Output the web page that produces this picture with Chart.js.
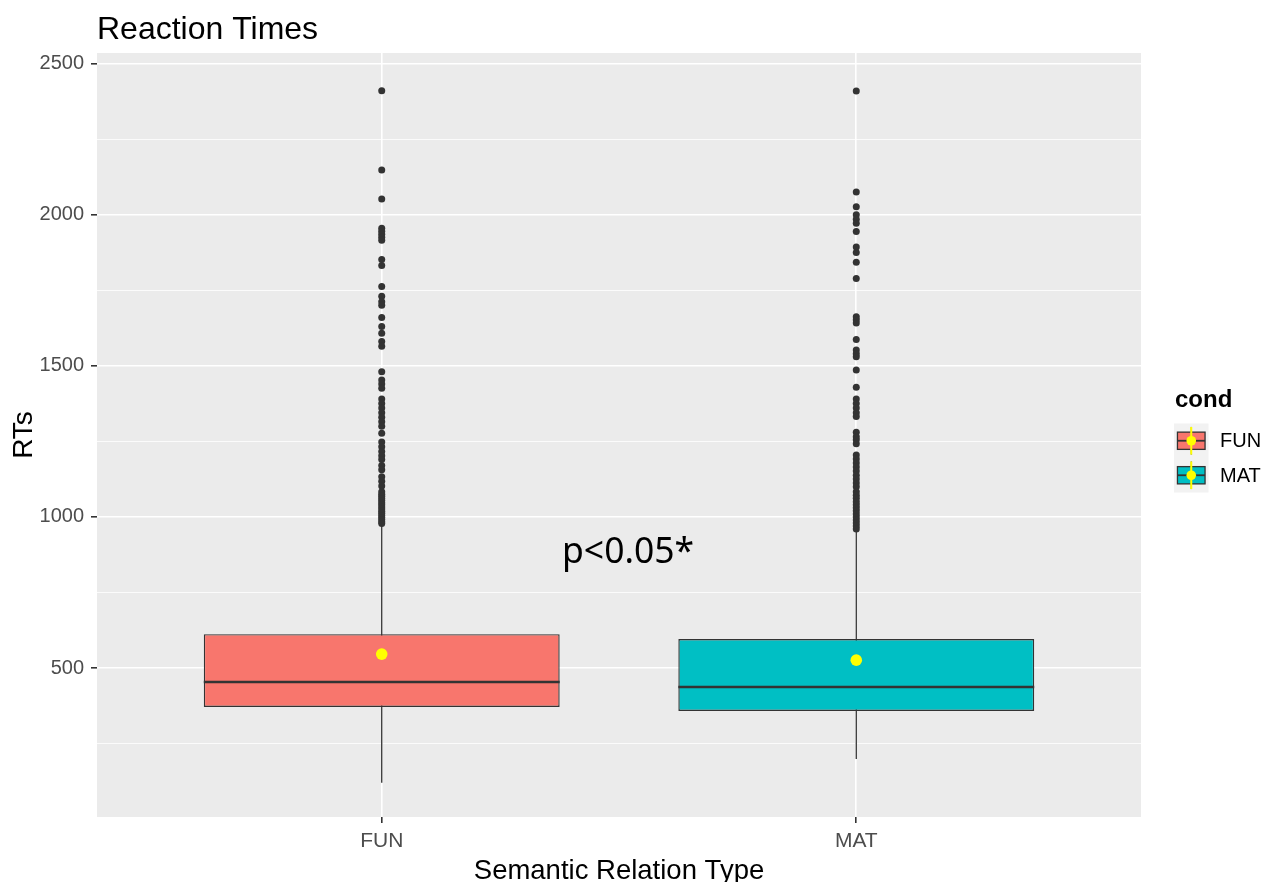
<!DOCTYPE html>
<html><head><meta charset="utf-8">
<script src="https://cdn.jsdelivr.net/npm/chart.js@4.4.1/dist/chart.umd.min.js"></script>
<style>html,body{margin:0;padding:0;background:#fff}canvas{display:block}</style>
</head><body>
<canvas id="c" width="1271" height="882" style="width:1271px;height:882px"></canvas>
<script>
// ---- data ----
const categories = ['FUN', 'MAT'];
const boxColors = ['#F8766D', '#00BFC4'];
const q1 = [371, 358];
const median = [454, 437];
const q3 = [612, 596];
const whiskerLow = [120, 199];
const whiskerHigh = [975, 952];
const means = [546, 526];
const outliersFUN = [2410, 2148, 2052, 1955, 1945, 1935, 1925, 1915, 1852, 1832, 1762, 1730, 1712, 1700,
  1660, 1630, 1608, 1580, 1565, 1480, 1453, 1440, 1426, 1390, 1375, 1360, 1345, 1330, 1315, 1300, 1277,
  1248, 1232, 1216, 1202, 1190, 1170, 1156, 1133, 1118, 1102, 1083, 1075, 1068, 1061, 1054, 1047, 1040,
  1033, 1026, 1019, 1012, 1005, 998, 991, 984, 978];
const outliersMAT = [2409, 2075, 2026, 2000, 1985, 1972, 1944, 1893, 1875, 1843, 1789, 1662, 1652, 1642,
  1587, 1552, 1540, 1530, 1486, 1429, 1390, 1375, 1360, 1345, 1332, 1280, 1265, 1255, 1242,
  1205, 1192, 1178, 1165, 1152, 1138, 1125, 1112, 1100, 1083, 1072, 1062, 1050, 1040, 1030, 1020, 1010,
  1000, 990, 980, 970, 960];
const yTicks = [250, 500, 750, 1000, 1250, 1500, 1750, 2000, 2250, 2500];
const yLabelled = [500, 1000, 1500, 2000, 2500];

const BOX_W = 0.75;
const FONT = '"Liberation Sans", Arial, sans-serif';

// derived datasets
const boxData = categories.map((c, i) => ({x: i + 1, y: [q1[i], q3[i]]}));
const medianData = [];
const whiskerData = [];
categories.forEach((c, i) => {
  if (i > 0) { medianData.push({x: i + 0.5, y: null}); whiskerData.push({x: i + 0.5, y: null}); }
  medianData.push({x: i + 1 - BOX_W / 2, y: median[i]}, {x: i + 1 + BOX_W / 2, y: median[i]});
  whiskerData.push({x: i + 1, y: whiskerLow[i]}, {x: i + 1, y: whiskerHigh[i]});
});
const outlierData = [
  ...outliersFUN.map(v => ({x: 1, y: v})),
  ...outliersMAT.map(v => ({x: 2, y: v}))
];
const meanData = means.map((v, i) => ({x: i + 1, y: v}));

const panelPlugin = {
  id: 'panel',
  beforeDraw(chart) {
    const {ctx, chartArea: a} = chart;
    ctx.save();
    ctx.fillStyle = '#EBEBEB';
    ctx.fillRect(a.left, a.top, a.right - a.left, a.bottom - a.top);
    ctx.restore();
  },
  afterDraw(chart) {
    const ctx = chart.ctx;
    ctx.save();
    // title
    ctx.fillStyle = '#000';
    ctx.font = '32px ' + FONT;
    ctx.textBaseline = 'alphabetic';
    ctx.textAlign = 'left';
    ctx.fillText('Reaction Times', 97, 39);
    // annotation
    ctx.font = '35.5px "Noto Sans", "Open Sans", sans-serif';
    ctx.fillText('p<0.05*', 562, 563);
    // legend
    ctx.font = 'bold 24px ' + FONT;
    ctx.fillText('cond', 1175, 407);
    const ks = 34.5, kx = 1174;
    categories.forEach((c, i) => {
      const ky = 423.5 + i * ks;
      ctx.fillStyle = '#F2F2F2';
      ctx.fillRect(kx, ky, ks, ks);
      ctx.strokeStyle = '#333';
      ctx.lineWidth = 1;
      ctx.beginPath();
      ctx.moveTo(kx + ks / 2, ky + 0.1 * ks); ctx.lineTo(kx + ks / 2, ky + 0.9 * ks);
      ctx.stroke();
      ctx.fillStyle = boxColors[i];
      ctx.fillRect(kx + 0.1 * ks, ky + 0.25 * ks, 0.8 * ks, 0.5 * ks);
      ctx.lineWidth = 1.3;
      ctx.strokeRect(kx + 0.1 * ks, ky + 0.25 * ks, 0.8 * ks, 0.5 * ks);
      ctx.lineWidth = 1.8;
      ctx.beginPath();
      ctx.moveTo(kx + 0.1 * ks, ky + 0.5 * ks); ctx.lineTo(kx + 0.9 * ks, ky + 0.5 * ks);
      ctx.stroke();
      ctx.strokeStyle = '#FFFF00';
      ctx.lineWidth = 2;
      ctx.beginPath();
      ctx.moveTo(kx + ks / 2, ky + 0.1 * ks); ctx.lineTo(kx + ks / 2, ky + 0.9 * ks);
      ctx.stroke();
      ctx.fillStyle = '#FFFF00';
      ctx.beginPath();
      ctx.arc(kx + ks / 2, ky + ks / 2, 4.8, 0, Math.PI * 2);
      ctx.fill();
      ctx.fillStyle = '#000';
      ctx.font = '20px ' + FONT;
      ctx.textBaseline = 'middle';
      ctx.fillText(c, 1220, ky + ks / 2 + 1);
      ctx.textBaseline = 'alphabetic';
    });
    ctx.restore();
  }
};

new Chart(document.getElementById('c'), {
  type: 'bar',
  data: {
    datasets: [
      {
        type: 'line', label: 'whisker', data: whiskerData, borderColor: '#333333', borderWidth: 1.3,
        pointRadius: 0, spanGaps: false, tension: 0, order: 5
      },
      {
        type: 'bar', label: 'box', data: boxData, backgroundColor: boxColors, borderColor: '#333333',
        borderWidth: 1.4, borderSkipped: false, barPercentage: BOX_W, categoryPercentage: 1, grouped: false, order: 4
      },
      {
        type: 'line', label: 'median', data: medianData, borderColor: '#333333', borderWidth: 2.5,
        pointRadius: 0, spanGaps: false, tension: 0, order: 3
      },
      {
        type: 'scatter', label: 'outliers', data: outlierData, backgroundColor: '#333333', borderWidth: 0,
        pointRadius: 3.5, order: 2
      },
      {
        type: 'scatter', label: 'mean', data: meanData, backgroundColor: '#FFFF00', borderWidth: 0,
        pointRadius: 5.8, order: 1
      }
    ]
  },
  options: {
    responsive: false,
    animation: false,
    events: [],
    layout: {padding: {top: 53, left: 0, right: 130, bottom: 0}},
    plugins: {legend: {display: false}, tooltip: {enabled: false}, title: {display: false}},
    scales: {
      x: {
        type: 'linear', min: 0.4, max: 2.6, offset: false,
        afterBuildTicks: s => { s.ticks = categories.map((c, i) => ({value: i + 1})); },
        afterFit: s => { s.height = 65; },
        grid: {offset: false, color: '#FFFFFF', lineWidth: 1.6, tickColor: '#333333', tickLength: 6, drawTicks: true},
        border: {display: false},
        ticks: {
          autoSkip: false, maxRotation: 0, padding: 6, color: '#4D4D4D',
          font: {family: FONT, size: 21},
          callback: v => categories[Math.round(v) - 1] || ''
        },
        title: {display: true, text: 'Semantic Relation Type', color: '#000', font: {family: FONT, size: 27.5, lineHeight: 0.8}, padding: 0}
      },
      y: {
        type: 'linear', min: 7, max: 2535, beginAtZero: false,
        afterBuildTicks: s => { s.ticks = yTicks.map(v => ({value: v})); },
        afterFit: s => { s.width = 97; },
        grid: {
          color: '#FFFFFF',
          lineWidth: c => yLabelled.includes(c.tick && c.tick.value) ? 1.6 : 0.8,
          tickColor: c => yLabelled.includes(c.tick && c.tick.value) ? '#333333' : 'rgba(0,0,0,0)',
          tickLength: 6, drawTicks: true
        },
        border: {display: false},
        ticks: {
          autoSkip: false, padding: 7, color: '#4D4D4D',
          font: {family: FONT, size: 20},
          callback: v => yLabelled.includes(v) ? String(v) : ''
        },
        title: {display: true, text: 'RTs', color: '#000', font: {family: FONT, size: 28, lineHeight: 1.2}, padding: {top: 7, bottom: 0}}
      }
    }
  },
  plugins: [panelPlugin]
});
</script>
</body></html>
